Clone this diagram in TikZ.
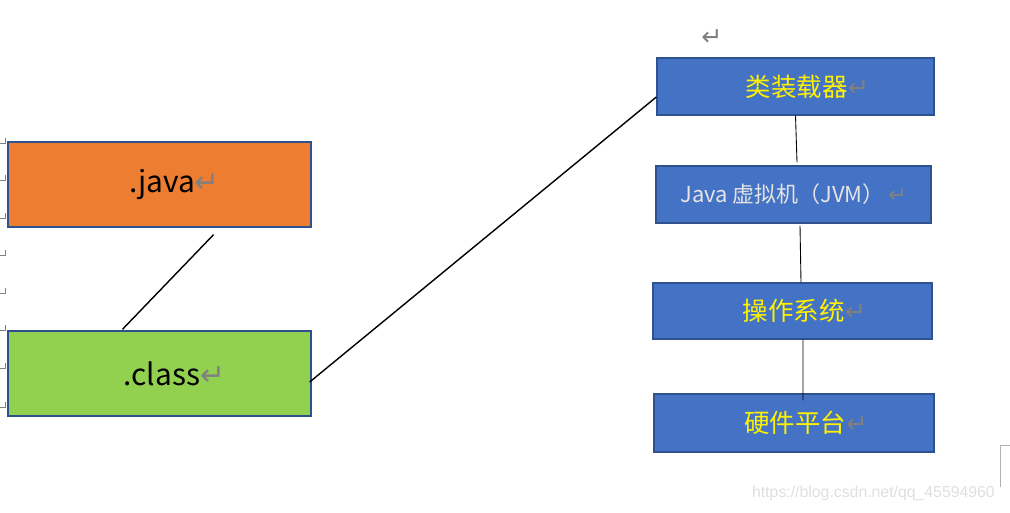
\documentclass[tikz,border=0pt]{standalone}
\usepackage{fontspec}
\usepackage{tikz}
\usetikzlibrary{positioning}
\newfontfamily\cjk{Noto Sans CJK SC}
\newfontfamily\symb{DejaVu Sans}
\newfontfamily\wmfont{Liberation Sans}
\definecolor{javaorange}{HTML}{ED7D31}
\definecolor{classgreen}{HTML}{92D050}
\definecolor{layerblue}{HTML}{4472C4}
\definecolor{boxline}{HTML}{2F528F}
\definecolor{retgray}{HTML}{808080}
\definecolor{jvmtext}{HTML}{E4E4E4}
\newcommand\retmark{{\symb\color{retgray}↵}}
\newcommand\filelabel[1]{\hspace*{0.6cm}\raisebox{-0.24cm}{#1\retmark}}
\newcommand\layerlabel[1]{\hspace*{0.48cm}#1\retmark}

\begin{document}
\begin{tikzpicture}[x=0.02cm,y=-0.02cm,
   filebox/.style={draw=boxline,line width=0.8pt,minimum width=6.06cm,minimum height=1.7cm,font=\cjk\fontsize{17}{20}\selectfont},
   layer/.style={draw=boxline,line width=0.8pt,fill=layerblue,minimum height=1.14cm,text=yellow,font=\cjk\fontsize{14.5}{17}\selectfont},
   link/.style={line width=0.8pt},
   thinlink/.style={line width=0.5pt}]
   \useasboundingbox (0,0) rectangle (1010,512);
   % source and class file
   \node[filebox,fill=javaorange] (java)  at (159.5,184.5) {\filelabel{.java}};
   \node[filebox,fill=classgreen] (class) at (159.5,373.5) {\filelabel{.class}};
   % layers
   \node[layer,minimum width=5.54cm] (loader) at (795.5,86.5) {\layerlabel{类装载器}};
   \node[layer,minimum width=5.5cm,text=jvmtext,font=\cjk\fontsize{12.5}{15}\selectfont] (jvm) at (793.5,194.5) {Java 虚拟机（JVM）\,\retmark};
   \node[layer,minimum width=5.58cm,minimum height=1.12cm] (os) at (792.5,311) {\layerlabel{操作系统}};
   \node[layer,minimum width=5.6cm,minimum height=1.16cm] (hw) at (794,423) {\layerlabel{硬件平台}};
   \node[text=retgray,font=\symb\Large] (topmark) at (712,38) {↵};
   \path[link]
    ([shift={(54,7)}]java.south) edge ([shift={(-37,-1)}]class.north)
    ([shift={(-2,8.5)}]class.east) edge ([shift={(0,10.5)}]loader.west);
   \path[thinlink]
    (loader.south) edge ([shift={(3.5,-3)}]jvm.north)
    ([shift={(6.5,2)}]jvm.south) edge ([shift={(8.5,0)}]os.north)
    ([shift={(10.5,0)}]os.south) edge ([shift={(9,7)}]hw.north);
   % page marks
   \foreach \y in {143,180,218,255,293,330,368,407}
     \draw[retgray,line width=0.4pt] (5,\y-5) -- (5,\y) -- (0,\y);
   \draw[gray!60,line width=0.5pt] (1000,487) -- (1000,445) -- (1010,445);
   \node[text=gray!25,font=\wmfont\fontsize{9}{11}\selectfont,anchor=east] (mark) at (1001,493) {https://blog.csdn.net/qq\_45594960};
\end{tikzpicture}
\end{document}
